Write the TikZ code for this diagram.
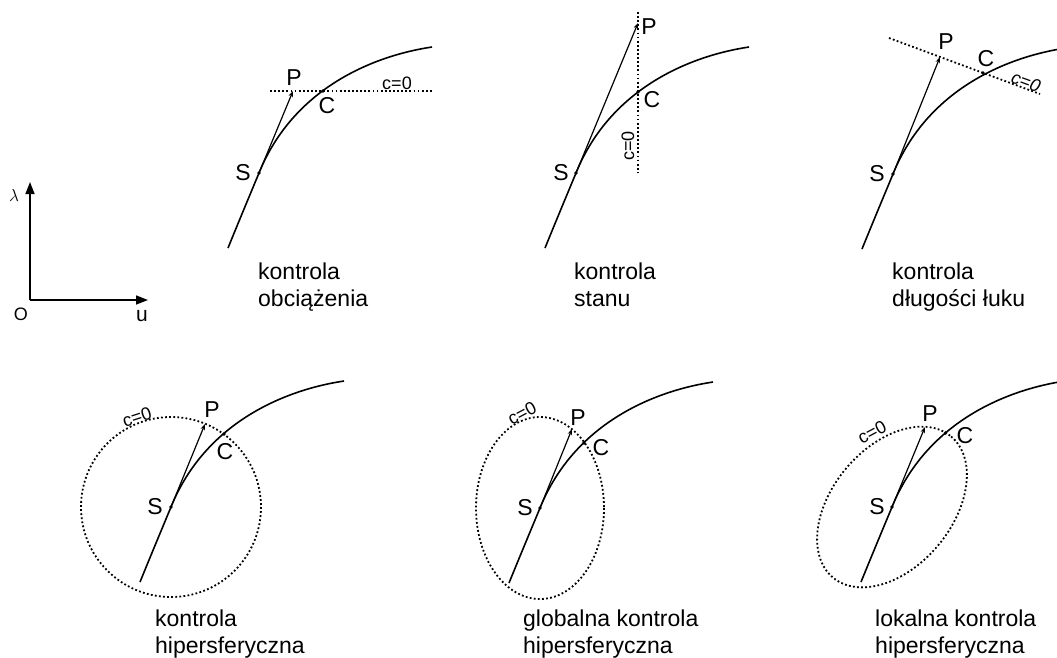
\documentclass[tikz,border=0pt]{standalone}
\usepackage{fontspec}
\setmainfont{Liberation Sans}
\usetikzlibrary{arrows.meta, positioning, calc}

\begin{document}
\begin{tikzpicture}[x=1pt, y=-1pt,
  >={Stealth[length=6pt, width=4.5pt]},
  branch/.style={line width=1.6pt, black},
  ctrl/.style={line width=1.8pt, dash pattern=on 1.8pt off 2.3pt},
  pt/.style={circle, fill=black, inner sep=0pt, minimum size=3.6pt},
  lbl/.style={font=\fontsize{23}{26}\selectfont, inner sep=0pt},
  clbl/.style={font=\fontsize{18}{20}\selectfont, inner sep=0pt},
  desc/.style={font=\fontsize{23}{26.5}\selectfont, align=left,
    anchor=base west, inner sep=0pt},
  axis/.style={-{Triangle[length=12pt, width=9pt]}, line width=1.5pt},
  tang/.style={->, line width=1.2pt},
]
\useasboundingbox (0,0) rectangle (1057,657);

% Axes
\coordinate (O) at (30,300);
\coordinate (ytip) at (30,182);
\coordinate (xtip) at (148,300);
\draw[axis] (O) -- (ytip);
\draw[axis] (O) -- (xtip);
\node[font=\fontsize{19}{19}\selectfont, inner sep=0pt] (lam) at (14,195) {$\lambda$};
\node[font=\fontsize{18}{18}\selectfont, inner sep=0pt] (lO) at (21,314) {O};
\node[font=\fontsize{21}{21}\selectfont, inner sep=0pt] (lu) at (142,316) {u};

% =============================================
% Top row
% =============================================
% kontrola obciazenia
\begin{scope}[shift={(259,173)}]
\draw[branch] (-31,75) .. controls (-20,48) and (-10,24) .. (0,0)
  .. controls (34,-84) and (113,-117) .. (173,-126);
\node[pt] (S1) at (0,0) {};
\node[pt] (C1) at (64,-82) {};
\coordinate (P1) at (34,-82);
\coordinate (L1a) at (11,-82);
\coordinate (L1b) at (173,-82);
\draw[ctrl] (L1a) -- (L1b);
\draw[tang] (S1) -- (P1);
\node[lbl] (tP1) at (35,-95) {P};
\node[lbl] (tC1) at (68,-67) {C};
\node[lbl] (tS1) at (-16,0) {S};
\node[clbl] (tc1) at (138,-90) {c=0};
\node[desc] (d1) at (-1,133) {kontrola\\obciążenia};
\end{scope}

% kontrola stanu
\begin{scope}[shift={(576,173)}]
\draw[branch] (-31,75) .. controls (-20,48) and (-10,24) .. (0,0)
  .. controls (34,-84) and (113,-117) .. (173,-126);
\node[pt] (S2) at (0,0) {};
\node[pt] (C2) at (62,-81) {};
\coordinate (P2) at (62,-150);
\coordinate (L2a) at (62,-161);
\coordinate (L2b) at (62,-1);
\draw[ctrl] (L2a) -- (L2b);
\draw[tang] (S2) -- (P2);
\node[lbl] (tP2) at (73,-146) {P};
\node[lbl] (tC2) at (76,-73) {C};
\node[lbl] (tS2) at (-15,0) {S};
\node[clbl, rotate=90] (tc2) at (52,-27) {c=0};
\node[desc] (d2) at (-2,133) {kontrola\\stanu};
\end{scope}

% kontrola dlugosci luku
\begin{scope}[shift={(893,174)}]
\draw[branch] (-31,75) .. controls (-20,48) and (-10,24) .. (0,0)
  .. controls (34,-84) and (113,-117) .. (173,-126);
\node[pt] (S3) at (0,0) {};
\node[pt] (C3) at (90,-101) {};
\coordinate (P3) at (47,-117);
\coordinate (L3a) at (-4,-136);
\coordinate (L3b) at (147,-80);
\draw[ctrl] (L3a) -- (L3b);
\draw[tang] (S3) -- (P3);
\node[lbl] (tP3) at (53,-132) {P};
\node[lbl] (tC3) at (93,-115) {C};
\node[lbl] (tS3) at (-16,0) {S};
\node[clbl, rotate=-20, font=\fontsize{18}{20}\selectfont\itshape] (tc3) at (133,-92) {c=0};
\node[desc] (d3) at (-1,132) {kontrola\\długości łuku};
\end{scope}

% =============================================
% Bottom row
% =============================================
% kontrola hipersferyczna
\begin{scope}[shift={(171,507)}]
\draw[branch] (-31,75) .. controls (-20,48) and (-10,24) .. (0,0)
  .. controls (34,-84) and (113,-117) .. (173,-126);
\node[pt] (S4) at (0,0) {};
\node[pt] (C4) at (53,-73) {};
\coordinate (P4) at (34,-83);
\draw[ctrl] (S4) circle[radius=90];
\draw[tang] (S4) -- (P4);
\node[lbl] (tP4) at (41,-97) {P};
\node[lbl] (tC4) at (54,-55) {C};
\node[lbl] (tS4) at (-16,0) {S};
\node[clbl, rotate=18] (tc4) at (-34,-90) {c=0};
\node[desc] (d4) at (-16,146) {kontrola\\hipersferyczna};
\end{scope}

% globalna kontrola hipersferyczna
\begin{scope}[shift={(540,508)}]
\draw[branch] (-31,75) .. controls (-20,48) and (-10,24) .. (0,0)
  .. controls (34,-84) and (113,-117) .. (173,-126);
\node[pt] (S5) at (0,0) {};
\node[pt] (C5) at (44,-65) {};
\coordinate (P5) at (32,-79);
\draw[ctrl] (S5) ellipse[x radius=64, y radius=91];
\draw[tang] (S5) -- (P5);
\node[lbl] (tP5) at (38,-90) {P};
\node[lbl] (tC5) at (61,-60) {C};
\node[lbl] (tS5) at (-15,0) {S};
\node[clbl, rotate=28] (tc5) at (-18,-95) {c=0};
\node[desc] (d5) at (-17,145) {globalna kontrola\\hipersferyczna};
\end{scope}

% lokalna kontrola hipersferyczna
\begin{scope}[shift={(892,507)}]
\draw[branch] (-31,75) .. controls (-20,48) and (-10,24) .. (0,0)
  .. controls (34,-84) and (113,-117) .. (173,-126);
\node[pt] (S6) at (0,0) {};
\node[pt] (C6) at (53.5,-74) {};
\coordinate (P6) at (33,-80);
\draw[ctrl, rotate around={50:(S6)}] (S6) ellipse[x radius=92, y radius=60];
\draw[tang] (S6) -- (P6);
\node[lbl] (tP6) at (38,-93) {P};
\node[lbl] (tC6) at (73,-71) {C};
\node[lbl] (tS6) at (-15,0) {S};
\node[clbl, rotate=28] (tc6) at (-20,-75) {c=0};
\node[desc] (d6) at (-17,146) {lokalna kontrola\\hipersferyczna};
\end{scope}

\end{tikzpicture}
\end{document}
